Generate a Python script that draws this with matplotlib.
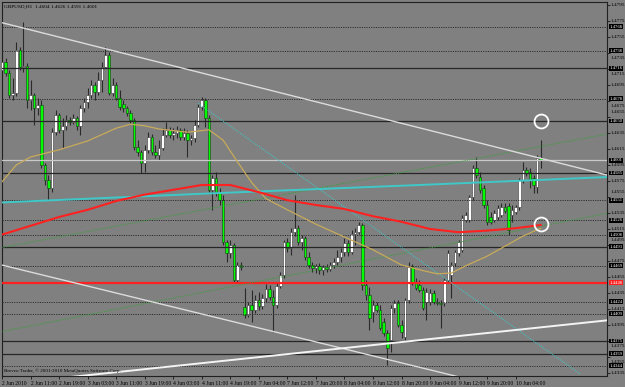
import matplotlib
matplotlib.use("Agg")
import matplotlib.pyplot as plt
import matplotlib.transforms as mtransforms
import numpy as np

# GBPUSD H1 candles, bar 0 = 2 Jun 2010 03:00
opens = [1.4714, 1.4724, 1.4710, 1.4683, 1.4685, 1.4739, 1.4718, 1.4719, 1.4676, 1.4683,
         1.4666, 1.4670, 1.4595, 1.4576, 1.4566, 1.4636, 1.4658, 1.4639, 1.4644, 1.4651,
         1.4649, 1.4654, 1.4644, 1.4666, 1.4674, 1.4683, 1.4695, 1.4686, 1.4701, 1.4718,
         1.4733, 1.4685, 1.4695, 1.4679, 1.4671, 1.4666, 1.4660, 1.4651, 1.4618, 1.4611,
         1.4598, 1.4614, 1.4630, 1.4611, 1.4608, 1.4616, 1.4633, 1.4639, 1.4633, 1.4635,
         1.4639, 1.4630, 1.4635, 1.4626, 1.4629, 1.4645, 1.4668, 1.4676, 1.4654, 1.4564,
         1.4579, 1.4561, 1.4551, 1.4499, 1.4485, 1.4495, 1.4451, 1.4470, 1.4418, 1.4408,
         1.4420, 1.4414, 1.4426, 1.4419, 1.4429, 1.4440, 1.4430, 1.4420, 1.4444, 1.4458,
         1.4499, 1.4491, 1.4511, 1.4516, 1.4499, 1.4504, 1.4480, 1.4470, 1.4466, 1.4469,
         1.4464, 1.4468, 1.4465, 1.4470, 1.4474, 1.4480, 1.4486, 1.4498, 1.4486, 1.4509,
         1.4511, 1.4520, 1.4445, 1.4433, 1.4411, 1.4420, 1.4414, 1.4399, 1.4385, 1.4376,
         1.4416, 1.4423, 1.4395, 1.4380, 1.4426, 1.4468, 1.4449, 1.4445, 1.4439, 1.4424,
         1.4424, 1.4435, 1.4424, 1.4423, 1.4423, 1.4451, 1.4458, 1.4473, 1.4485, 1.4489,
         1.4526, 1.4526, 1.4555, 1.4591, 1.4580, 1.4566, 1.4545, 1.4530, 1.4526, 1.4530,
         1.4533, 1.4543, 1.4544, 1.4533, 1.4536, 1.4543, 1.4576, 1.4589, 1.4586, 1.4579,
         1.4568, 1.4604]
highs = [1.4739, 1.4729, 1.4714, 1.4704, 1.4749, 1.4743, 1.4774, 1.4723, 1.4701, 1.4685,
         1.4679, 1.4676, 1.4598, 1.4583, 1.4641, 1.4664, 1.4660, 1.4654, 1.4658, 1.4655,
         1.4659, 1.4656, 1.4670, 1.4679, 1.4691, 1.4701, 1.4699, 1.4711, 1.4724, 1.4743,
         1.4736, 1.4704, 1.4699, 1.4689, 1.4676, 1.4669, 1.4664, 1.4654, 1.4626, 1.4614,
         1.4620, 1.4636, 1.4634, 1.4620, 1.4626, 1.4641, 1.4649, 1.4643, 1.4641, 1.4644,
         1.4641, 1.4641, 1.4639, 1.4633, 1.4651, 1.4671, 1.4680, 1.4679, 1.4658, 1.4583,
         1.4586, 1.4566, 1.4558, 1.4501, 1.4501, 1.4498, 1.4474, 1.4474, 1.4441, 1.4424,
         1.4439, 1.4433, 1.4436, 1.4434, 1.4446, 1.4445, 1.4439, 1.4449, 1.4461, 1.4501,
         1.4504, 1.4516, 1.4558, 1.4520, 1.4508, 1.4506, 1.4486, 1.4474, 1.4471, 1.4473,
         1.4470, 1.4471, 1.4474, 1.4479, 1.4489, 1.4491, 1.4504, 1.4501, 1.4514, 1.4516,
         1.4524, 1.4523, 1.4451, 1.4443, 1.4426, 1.4424, 1.4420, 1.4404, 1.4389, 1.4420,
         1.4426, 1.4426, 1.4401, 1.4429, 1.4474, 1.4471, 1.4454, 1.4451, 1.4443, 1.4441,
         1.4440, 1.4439, 1.4429, 1.4426, 1.4454, 1.4489, 1.4474, 1.4489, 1.4501, 1.4533,
         1.4536, 1.4558, 1.4595, 1.4605, 1.4586, 1.4570, 1.4551, 1.4536, 1.4539, 1.4545,
         1.4548, 1.4548, 1.4548, 1.4545, 1.4545, 1.4579, 1.4599, 1.4593, 1.4591, 1.4583,
         1.4608, 1.4626]
lows = [1.4701, 1.4706, 1.4679, 1.4676, 1.4681, 1.4714, 1.4711, 1.4666, 1.4664, 1.4645,
        1.4658, 1.4591, 1.4570, 1.4551, 1.4561, 1.4633, 1.4635, 1.4616, 1.4639, 1.4645,
        1.4646, 1.4639, 1.4633, 1.4661, 1.4666, 1.4679, 1.4676, 1.4683, 1.4686, 1.4716,
        1.4683, 1.4681, 1.4676, 1.4664, 1.4661, 1.4656, 1.4648, 1.4614, 1.4606, 1.4585,
        1.4586, 1.4610, 1.4608, 1.4604, 1.4601, 1.4614, 1.4630, 1.4629, 1.4626, 1.4629,
        1.4626, 1.4626, 1.4605, 1.4620, 1.4624, 1.4643, 1.4664, 1.4643, 1.4561, 1.4539,
        1.4556, 1.4545, 1.4495, 1.4474, 1.4479, 1.4449, 1.4448, 1.4464, 1.4404, 1.4405,
        1.4399, 1.4410, 1.4414, 1.4415, 1.4424, 1.4426, 1.4386, 1.4416, 1.4441, 1.4454,
        1.4486, 1.4483, 1.4506, 1.4495, 1.4489, 1.4476, 1.4466, 1.4461, 1.4460, 1.4459,
        1.4458, 1.4461, 1.4463, 1.4466, 1.4470, 1.4474, 1.4481, 1.4481, 1.4484, 1.4495,
        1.4509, 1.4439, 1.4426, 1.4389, 1.4399, 1.4411, 1.4389, 1.4381, 1.4345, 1.4361,
        1.4410, 1.4393, 1.4379, 1.4376, 1.4423, 1.4445, 1.4439, 1.4436, 1.4414, 1.4401,
        1.4420, 1.4421, 1.4420, 1.4391, 1.4419, 1.4448, 1.4429, 1.4469, 1.4481, 1.4486,
        1.4524, 1.4524, 1.4551, 1.4579, 1.4560, 1.4541, 1.4520, 1.4521, 1.4524, 1.4526,
        1.4530, 1.4535, 1.4508, 1.4524, 1.4534, 1.4539, 1.4573, 1.4581, 1.4566, 1.4560,
        1.4560, 1.4591]
closes = [1.4724, 1.4710, 1.4683, 1.4685, 1.4739, 1.4718, 1.4719, 1.4676, 1.4683, 1.4666,
          1.4670, 1.4595, 1.4576, 1.4566, 1.4636, 1.4658, 1.4639, 1.4644, 1.4651, 1.4649,
          1.4654, 1.4644, 1.4666, 1.4674, 1.4683, 1.4695, 1.4686, 1.4701, 1.4718, 1.4733,
          1.4685, 1.4695, 1.4679, 1.4668, 1.4666, 1.4660, 1.4651, 1.4618, 1.4611, 1.4598,
          1.4614, 1.4630, 1.4611, 1.4608, 1.4616, 1.4633, 1.4639, 1.4633, 1.4635, 1.4639,
          1.4630, 1.4635, 1.4626, 1.4629, 1.4645, 1.4668, 1.4676, 1.4654, 1.4564, 1.4579,
          1.4561, 1.4551, 1.4499, 1.4485, 1.4495, 1.4451, 1.4470, 1.4468, 1.4408, 1.4420,
          1.4414, 1.4426, 1.4419, 1.4429, 1.4440, 1.4430, 1.4420, 1.4444, 1.4458, 1.4499,
          1.4491, 1.4511, 1.4516, 1.4499, 1.4504, 1.4480, 1.4470, 1.4466, 1.4469, 1.4464,
          1.4468, 1.4465, 1.4470, 1.4474, 1.4480, 1.4486, 1.4498, 1.4486, 1.4509, 1.4511,
          1.4520, 1.4445, 1.4433, 1.4404, 1.4420, 1.4414, 1.4391, 1.4385, 1.4366, 1.4416,
          1.4423, 1.4395, 1.4386, 1.4426, 1.4468, 1.4448, 1.4441, 1.4439, 1.4416, 1.4436,
          1.4435, 1.4424, 1.4423, 1.4421, 1.4451, 1.4485, 1.4470, 1.4486, 1.4499, 1.4529,
          1.4533, 1.4555, 1.4591, 1.4583, 1.4564, 1.4545, 1.4524, 1.4524, 1.4535, 1.4541,
          1.4543, 1.4538, 1.4514, 1.4539, 1.4543, 1.4576, 1.4589, 1.4585, 1.4576, 1.4570,
          1.4604, 1.4601]

time_ticks = [0, 8, 16, 24, 32, 40, 48, 56, 64, 72, 80, 88, 96, 104, 112, 120, 128, 136, 144]
time_labels = ["2 Jun 2010", "2 Jun 11:00", "2 Jun 19:00", "3 Jun 03:00", "3 Jun 11:00",
               "3 Jun 19:00", "4 Jun 03:00", "4 Jun 11:00", "4 Jun 19:00", "7 Jun 04:00",
               "7 Jun 12:00", "7 Jun 20:00", "8 Jun 04:00", "8 Jun 12:00", "8 Jun 20:00",
               "9 Jun 04:00", "9 Jun 12:00", "9 Jun 20:00", "10 Jun 04:00"]
price_ticks = [1.4795, 1.4775, 1.4755, 1.4735, 1.4715, 1.4695, 1.4675, 1.4655, 1.4635,
               1.4615, 1.4595, 1.4575, 1.4555, 1.4535, 1.4515, 1.4495, 1.4475, 1.4455,
               1.4435, 1.4415, 1.4395, 1.4375, 1.4355, 1.4335]

# moving averages (sampled)
ma_red_bars = [0, 8, 16, 24, 32, 40, 48, 56, 64, 72, 80, 88, 96, 104, 112, 120, 128, 136, 144, 151]
ma_red = [1.4508, 1.4519, 1.4530, 1.4539, 1.4550, 1.4558, 1.4564, 1.4570, 1.4570, 1.4561,
          1.4551, 1.4545, 1.4540, 1.4531, 1.4524, 1.4515, 1.4511, 1.4513, 1.4516, 1.4520]
ma_yel_bars = [0, 4, 8, 16, 24, 32, 36, 40, 44, 52, 58, 62, 66, 70, 74, 80, 88, 96, 104,
               112, 118, 122, 126, 130, 136, 142, 146, 151]
ma_yel = [1.4574, 1.4595, 1.4605, 1.4614, 1.4625, 1.4641, 1.4646, 1.4644, 1.4640, 1.4636,
          1.4639, 1.4626, 1.4599, 1.4573, 1.4553, 1.4539, 1.4521, 1.4505, 1.4489, 1.4470,
          1.4463, 1.4459, 1.4460, 1.4469, 1.4481, 1.4496, 1.4506, 1.4516]
cyan_bars = [-1, 61, 117, 170]
cyan_vals = [1.4548, 1.4560, 1.4570, 1.4580]

# horizontal levels
solid_levels = [1.4716, 1.4650, 1.4585, 1.4493, 1.4375, 1.4359]
dotted_levels = [1.4768, 1.4738, 1.4678, 1.4551, 1.4526, 1.4508, 1.4469, 1.4424, 1.4409, 1.4344]
red_level = 1.4448

# trendlines (bar, price) pairs
tl_white_top = ([-1, 170], [1.4774, 1.4582])
tl_white_low = ([-1, 130], [1.4471, 1.4328])
tl_white_up = ([15, 170], [1.4328, 1.4401])
tl_green_1 = ([-1, 170], [1.4491, 1.4634])
tl_green_2 = ([-1, 170], [1.4386, 1.4535])
tl_cyan_dot = ([55, 162], [1.4672, 1.4334])
circles = ([151, 151], [1.4650, 1.4521])

BG = '#808080'
fig = plt.figure(figsize=(6.25, 3.87), dpi=100)
fig.patch.set_facecolor(BG)
ax = fig.add_axes([2 / 625, 11 / 387, 605 / 625, 374 / 387])
ax.set_facecolor(BG)

bars = np.arange(len(opens))
o = np.array(opens)
c = np.array(closes)
up = c >= o
lo = np.minimum(o, c)
hgt = np.maximum(np.abs(c - o), 0.00008)

ax.vlines(bars, lows, highs, color='#2a2a2a', lw=0.8, zorder=2)
ax.bar(bars[up], hgt[up], bottom=lo[up], width=0.72, color='white',
       edgecolor='#3a3a3a', linewidth=0.4, zorder=3)
ax.bar(bars[~up], hgt[~up], bottom=lo[~up], width=0.72, color='#00ff00',
       edgecolor='#1a3a1a', linewidth=0.4, zorder=3)

for lv in solid_levels:
    ax.axhline(lv, color='#262626', lw=0.9, zorder=4)
for lv in dotted_levels:
    ax.axhline(lv, color='#2e2e2e', lw=0.7, ls=(0, (1.2, 1.2)), zorder=4)
ax.axhline(red_level, color='#ff2020', lw=1.6, zorder=4)
ax.axhline(closes[-1], color='#c8c8c8', lw=0.9, zorder=4)

ax.plot(*tl_green_1, color='#3aa03a', lw=0.7, ls=(0, (1.2, 1.2)), zorder=5)
ax.plot(*tl_green_2, color='#3aa03a', lw=0.7, ls=(0, (1.2, 1.2)), zorder=5)
ax.plot(*tl_cyan_dot, color='#40c8c8', lw=0.7, ls=(0, (1.2, 1.2)), zorder=5)
ax.plot(cyan_bars, cyan_vals, color='#40c8c8', lw=1.4, zorder=5)
ax.plot(ma_yel_bars, ma_yel, color='#c8aa5a', lw=0.9, zorder=5)
ax.plot(ma_red_bars, ma_red, color='#ff2020', lw=1.5, zorder=5)
ax.plot(*tl_white_top, color='#dcdcdc', lw=1.0, zorder=6)
ax.plot(*tl_white_low, color='#dcdcdc', lw=1.0, zorder=6)
ax.plot(*tl_white_up, color='#f4f4f4', lw=1.4, zorder=6)
ax.plot(*circles, ls='none', marker='o', ms=10, mfc='none', mec='white', mew=1.3, zorder=7)

ax.set_xlim(0.14, 169.6)
ax.set_ylim(1.433125, 1.479875)

ax.yaxis.tick_right()
ax.set_yticks(price_ticks)
ax.set_yticklabels([])
ax.set_xticks(time_ticks)
ax.set_xticklabels(time_labels, fontsize=4.1, family='Liberation Serif', ha='left')
ax.tick_params(axis='y', length=2, width=0.5, pad=1.5, colors='black')
ax.tick_params(axis='x', length=2, width=0.5, pad=1.5, colors='black')
for sp in ax.spines.values():
    sp.set_color('#202020')
    sp.set_linewidth(0.8)

trans = mtransforms.blended_transform_factory(ax.transAxes, ax.transData)
box_levels = solid_levels + dotted_levels + [closes[-1], red_level]

# scale labels; where a line's price box sits on the same spot, slide the label aside
for p in price_ticks:
    near = [b for b in box_levels if abs(b - p) < 0.0005]
    yl = p
    if near:
        yl = p - 0.0006 if near[0] >= p else p + 0.0006
    ax.text(1.006, yl, '%.4f' % p, transform=trans, fontsize=3.8, color='black',
            family='Liberation Serif', va='center', ha='left', clip_on=False, zorder=7)

for lv in solid_levels + dotted_levels + [closes[-1]]:
    ax.text(1.004, lv, '%.4f' % lv, transform=trans, fontsize=3.4, color='white',
            family='Liberation Serif', va='center', ha='left', clip_on=False,
            bbox=dict(boxstyle='square,pad=0.1', fc='black', ec='none'), zorder=8)
ax.text(1.004, red_level, '%.4f' % red_level, transform=trans, fontsize=3.4, color='white',
        family='Liberation Serif', va='center', ha='left', clip_on=False,
        bbox=dict(boxstyle='square,pad=0.1', fc='#ff2020', ec='none'), zorder=8)

ax.text(0.004, 0.993, 'GBPUSD,H1  %.4f %.4f %.4f %.4f' % (opens[-1], highs[-1], lows[-1], closes[-1]),
        transform=ax.transAxes, fontsize=3.8, family='Liberation Serif', va='top', ha='left', zorder=9)
ax.text(0.004, 0.008, 'Brevco Trader, \u00a9 2001-2010 MetaQuotes Software Corp.',
        transform=ax.transAxes, fontsize=3.6, family='Liberation Serif', va='bottom', ha='left', zorder=9)

fig.savefig('out.png', dpi=100, facecolor=BG)
